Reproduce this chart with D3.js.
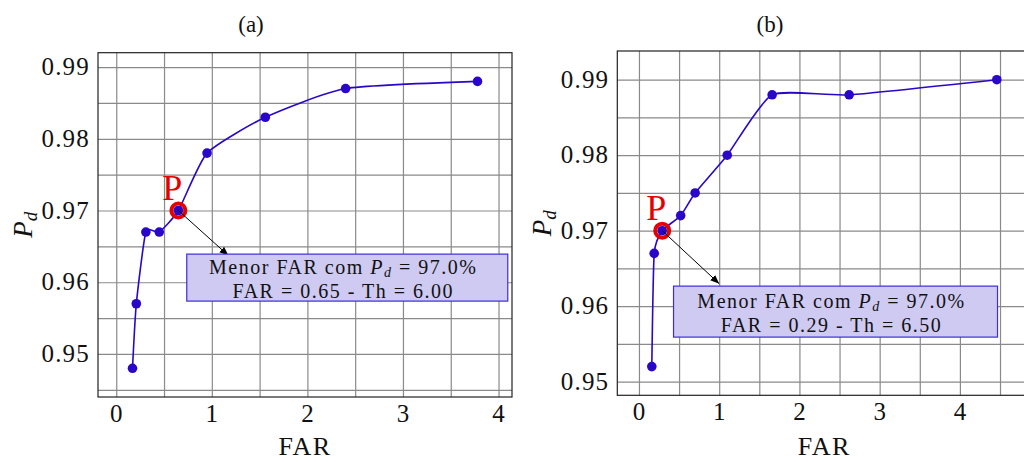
<!DOCTYPE html>
<html>
<head>
<meta charset="utf-8">
<script src="https://cdn.jsdelivr.net/npm/d3@7"></script>
<style>
  body { margin: 0; background: #fff; }
</style>
</head>
<body>
<div id="chart"></div>
<script>
// data
var farA = [0.17, 0.21, 0.31, 0.45, 0.65, 0.95, 1.56, 2.40, 3.78];
var pdA  = [0.948, 0.957, 0.967, 0.967, 0.970, 0.978, 0.983, 0.987, 0.988];
var farB = [0.16, 0.19, 0.29, 0.52, 0.70, 1.10, 1.66, 2.62, 4.46];
var pdB  = [0.952, 0.967, 0.970, 0.972, 0.975, 0.980, 0.988, 0.988, 0.990];

var xTicks = [0, 1, 2, 3, 4];
var yTicks = [0.95, 0.96, 0.97, 0.98, 0.99];
var titles = ["(a)", "(b)"];
var bestIdx = [4, 2];
var noteLine2 = ["FAR = 0.65 - Th = 6.00", "FAR = 0.29 - Th = 6.50"];

var W = 1024, H = 462;
var lineColor = "#2a06c9", red = "#e60000";
var serif = "'Liberation Serif', 'DejaVu Serif', 'Times New Roman', serif";

var svg = d3.select("#chart").append("svg")
    .attr("width", W)
    .attr("height", H)
    .attr("font-family", serif);

svg.append("defs").append("marker")
    .attr("id", "arrowhead")
    .attr("viewBox", "0 0 10 10")
    .attr("refX", 10).attr("refY", 5)
    .attr("markerWidth", 9).attr("markerHeight", 9)
    .attr("markerUnits", "userSpaceOnUse")
    .attr("orient", "auto")
    .append("path")
    .attr("d", "M0,1 L10,5 L0,9 Z")
    .attr("fill", "#000")

function enlarge(vals){
    var lo = d3.min(vals), hi = d3.max(vals), pad = (hi - lo) * 0.1;
    return [lo - pad, hi + pad];
}

function drawPanel(cfg){
    var far = cfg.far, pd = cfg.pd;
    var data = far.map(function(f, i){ return { far: f, pd: pd[i] }; });

    var x = d3.scaleLinear().domain(enlarge(far)).range([cfg.left, cfg.left + 414]);
    var y = d3.scaleLinear().domain(enlarge(pd)).range([cfg.bottom, cfg.top]);

    var g = svg.append("g").attr("font-family", serif).attr("fill", "#111");

    // grid (major + minor)
    var xGrid = d3.range(Math.ceil(x.domain()[0] * 2) / 2, x.domain()[1], 0.5);
    var yGrid = d3.range(Math.ceil(y.domain()[0] * 200) / 200, y.domain()[1], 0.005);

    g.append("g").call(d3.axisBottom(x).tickValues(xGrid).tickSize(-(cfg.bottom - cfg.top)).tickFormat(""))
        .attr("transform", "translate(0," + cfg.bottom + ")")
        .call(function(s){
            s.select(".domain").remove();
            s.selectAll("line").attr("stroke", "#8a8a8a").attr("stroke-width", 1.2);
        })

    g.append("g").call(d3.axisLeft(y).tickValues(yGrid).tickSize(-414).tickFormat(""))
        .attr("transform", "translate(" + cfg.left + ",0)")
        .call(function(s){
            s.select(".domain").remove();
            s.selectAll("line").attr("stroke", "#8a8a8a").attr("stroke-width", 1.2);
        })

    // frame
    g.append("rect")
        .attr("x", cfg.left).attr("y", cfg.top)
        .attr("width", 414).attr("height", cfg.bottom - cfg.top)
        .attr("fill", "none").attr("stroke", "#222").attr("stroke-width", 1.2)

    // tick labels
    g.selectAll(".xlab").data(xTicks).enter().append("text")
        .attr("x", function(d){ return x(d); })
        .attr("y", cfg.bottom + 25)
        .attr("text-anchor", "middle")
        .attr("font-size", "25px")
        .text(function(d){ return d; })

    g.selectAll(".ylab").data(yTicks).enter().append("text")
        .attr("x", cfg.left - 8)
        .attr("y", function(d){ return y(d) + 8; })
        .attr("text-anchor", "end")
        .attr("font-size", "25px")
        .attr("letter-spacing", "1.2px")
        .text(function(d){ return d3.format(".2f")(d); })

    // axis titles
    g.append("text")
        .attr("x", cfg.left + 207)
        .attr("y", 455)
        .attr("text-anchor", "middle")
        .attr("font-size", "26px")
        .attr("letter-spacing", "1.5px")
        .text("FAR")

    var yl = g.append("text")
        .attr("transform", "translate(" + (cfg.left - 66) + "," + ((cfg.top + cfg.bottom) / 2) + ") rotate(-90)")
        .attr("text-anchor", "middle")
        .attr("font-size", "27px")
    yl.append("tspan").attr("font-style", "italic").text("P")
    yl.append("tspan").attr("font-style", "italic").attr("font-size", "19px").attr("dy", 5).text("d")

    g.append("text")
        .attr("x", cfg.titleX)
        .attr("y", 32)
        .attr("text-anchor", "middle")
        .attr("font-size", "23px")
        .text(cfg.title)

    // curve + markers
    var line = d3.line()
        .x(function(d){ return x(d.far); })
        .y(function(d){ return y(d.pd); })
        .curve(d3.curveCardinal.tension(0.45));

    g.append("path")
        .datum(data)
        .attr("d", line)
        .attr("fill", "none")
        .attr("stroke", lineColor)
        .attr("stroke-width", 1.6)

    var best = data[cfg.best];
    var bx = x(best.far), by = y(best.pd);

    g.append("circle")
        .attr("cx", bx).attr("cy", by).attr("r", 7)
        .attr("fill", "none").attr("stroke", red).attr("stroke-width", 4)

    g.selectAll(".dot").data(data).enter().append("circle")
        .attr("cx", function(d){ return x(d.far); })
        .attr("cy", function(d){ return y(d.pd); })
        .attr("r", 4.8)
        .attr("fill", lineColor)

    g.append("text")
        .attr("x", bx - 6)
        .attr("y", by - 11)
        .attr("text-anchor", "middle")
        .attr("font-size", "36px")
        .attr("fill", red)
        .text("P")

    // annotation
    var tipX = bx + cfg.box.dx, tipY = by + cfg.box.dy;
    g.append("line")
        .attr("x1", bx).attr("y1", by)
        .attr("x2", tipX).attr("y2", tipY)
        .attr("stroke", "#000").attr("stroke-width", 1)
        .attr("marker-end", "url(#arrowhead)")

    var boxX = tipX + cfg.box.ox, boxY = tipY + cfg.box.oy;
    g.append("rect")
        .attr("x", boxX).attr("y", boxY)
        .attr("width", cfg.box.w).attr("height", cfg.box.h)
        .attr("fill", "#cfcaf2")
        .attr("stroke", "#3a2ed6").attr("stroke-width", 1.2)

    var cx = boxX + cfg.box.w / 2 - 4;
    var t1 = g.append("text")
        .attr("x", cx).attr("y", boxY + cfg.box.l1)
        .attr("text-anchor", "middle")
        .attr("font-size", "20px")
        .attr("letter-spacing", "1.5px")
    t1.append("tspan").text("Menor FAR com ")
    t1.append("tspan").attr("font-style", "italic").text("P")
    t1.append("tspan").attr("font-style", "italic").attr("font-size", "14px").attr("dy", 3).text("d")
    t1.append("tspan").attr("dy", -3).text(" = 97.0%")

    g.append("text")
        .attr("x", cx).attr("y", boxY + cfg.box.l2)
        .attr("text-anchor", "middle")
        .attr("font-size", "20px")
        .attr("letter-spacing", "1.5px")
        .text(cfg.note)
}

drawPanel({ far: farA, pd: pdA, left: 98, top: 52.7, bottom: 397, title: titles[0], titleX: 251,
    best: bestIdx[0], note: noteLine2[0],
    box: { dx: 50, dy: 45, ox: -41.6, oy: -1.4, w: 321, h: 47, l1: 20, l2: 44 } });

drawPanel({ far: farB, pd: pdB, left: 617.3, top: 51, bottom: 395.3, title: titles[1], titleX: 770,
    best: bestIdx[1], note: noteLine2[1],
    box: { dx: 57, dy: 53, ox: -45.7, oy: 2.4, w: 324, h: 51, l1: 22, l2: 46 } });
</script>
</body>
</html>
